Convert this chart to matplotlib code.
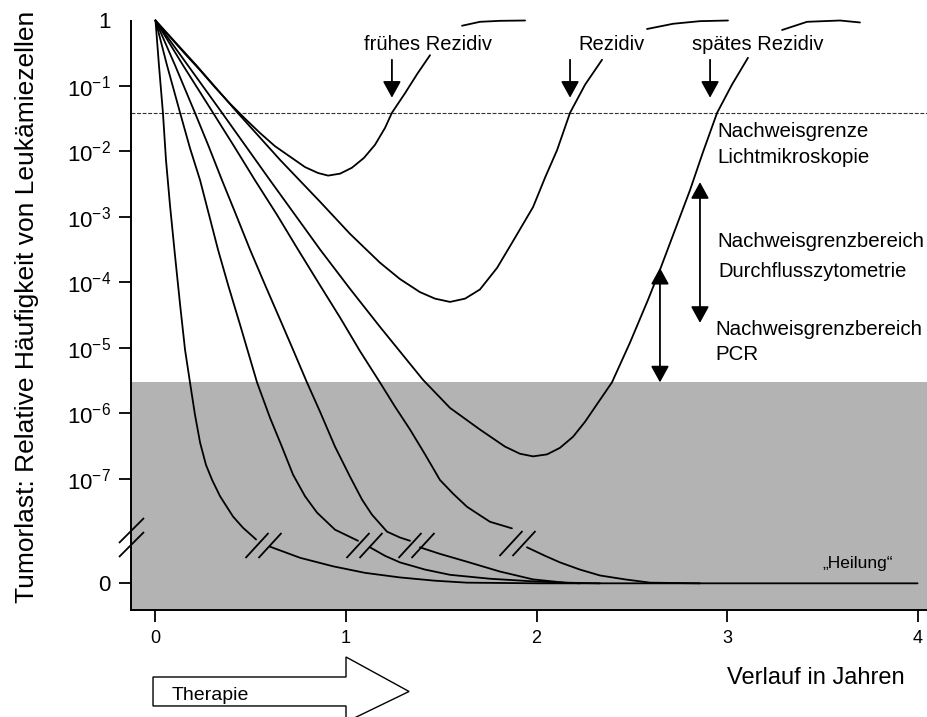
import numpy as np
import matplotlib
matplotlib.use('Agg')
import matplotlib.pyplot as plt
import matplotlib.transforms as mtransforms
from matplotlib.path import Path
from matplotlib.patches import Polygon

plt.rcParams['font.family'] = ['Liberation Sans', 'DejaVu Sans']
plt.rcParams['mathtext.fontset'] = 'custom'
plt.rcParams['mathtext.rm'] = 'Liberation Sans'
plt.rcParams['mathtext.it'] = 'Liberation Sans:italic'
plt.rcParams['mathtext.bf'] = 'Liberation Sans:bold'

DPI = 100
LW = 1.3

# ── Daten: x in Jahren, y als log10 der relativen Häufigkeit ──
# "0" (Heilung) wird auf der Achse bei 10^-8.6 dargestellt
NULL_LEVEL = -8.6

frueh_x = [0, 0.076, 0.155, 0.234, 0.312, 0.391, 0.470, 0.549, 0.627, 0.706, 0.785, 0.853, 0.906,
           0.969, 1.031, 1.094, 1.152, 1.205, 1.241, 1.310, 1.373, 1.441]
frueh_e = [0, -0.25, -0.51, -0.76, -1.02, -1.27, -1.50, -1.72, -1.92, -2.08, -2.24, -2.33, -2.37,
           -2.34, -2.25, -2.10, -1.90, -1.64, -1.41, -1.11, -0.82, -0.53]
frueh_top_x = [1.609, 1.703, 1.808, 1.94]
frueh_top_e = [-0.08, -0.02, -0.005, 0.0]

rez_x = [0, 0.213, 0.428, 0.654, 0.864, 1.021, 1.178, 1.283, 1.388, 1.467, 1.546, 1.625, 1.703,
         1.793, 1.877, 1.982, 2.045, 2.108, 2.176, 2.255, 2.344]
rez_e = [0, -0.68, -1.40, -2.13, -2.77, -3.26, -3.70, -3.95, -4.15, -4.25, -4.30, -4.25, -4.11,
         -3.78, -3.37, -2.85, -2.40, -1.98, -1.41, -0.98, -0.60]
rez_top_x = [2.58, 2.717, 2.858, 3.005]
rez_top_e = [-0.13, -0.05, -0.01, 0.0]

spaet_x = [0, 0.181, 0.349, 0.601, 0.864, 1.021, 1.178, 1.404, 1.546, 1.703, 1.834, 1.913, 1.982,
           2.055, 2.123, 2.192, 2.255, 2.323, 2.396, 2.491, 2.585, 2.648, 2.727, 2.806, 2.874,
           2.948, 3.026, 3.110]
spaet_e = [0, -0.73, -1.41, -2.44, -3.50, -4.10, -4.68, -5.49, -5.92, -6.25, -6.51, -6.62, -6.66,
           -6.63, -6.53, -6.36, -6.13, -5.84, -5.53, -4.92, -4.27, -3.81, -3.20, -2.59, -2.01,
           -1.41, -0.98, -0.57]
spaet_top_x = [3.289, 3.42, 3.593, 3.698]
spaet_top_e = [-0.145, -0.02, 0.0, -0.03]

# Heilungskurven (vor und nach dem Achsenbruch)
heil1_x = [0, 0.018, 0.039, 0.055, 0.076, 0.102, 0.129, 0.155, 0.181, 0.207, 0.234, 0.265, 0.297,
           0.339, 0.407, 0.459, 0.528]
heil1_e = [0, -0.68, -1.41, -2.13, -2.82, -3.58, -4.34, -5.03, -5.53, -6.02, -6.45, -6.79, -7.02,
           -7.27, -7.58, -7.75, -7.93]
heil1_post_x = [0.601, 0.759, 0.932, 1.100, 1.283, 1.467, 1.635, 2.018, 4.0]
heil1_post_e = [-8.04, -8.21, -8.34, -8.44, -8.51, -8.56, -8.59, -8.6, -8.6]

heil2_x = [0, 0.060, 0.129, 0.181, 0.234, 0.281, 0.328, 0.381, 0.444, 0.533, 0.601, 0.659, 0.722,
           0.785, 0.848, 0.942, 1.063]
heil2_e = [0, -0.68, -1.41, -1.95, -2.44, -2.97, -3.50, -4.04, -4.65, -5.53, -6.07, -6.48, -6.94,
           -7.27, -7.52, -7.78, -7.95]
heil2_post_x = [1.126, 1.205, 1.283, 1.415, 1.546, 1.756, 1.982, 2.228]
heil2_post_e = [-8.05, -8.18, -8.28, -8.39, -8.47, -8.53, -8.57, -8.6]

heil3_x = [0, 0.102, 0.207, 0.276, 0.349, 0.423, 0.496, 0.575, 0.654, 0.722, 0.795, 0.864, 0.942,
           1.021, 1.084, 1.136, 1.215, 1.283, 1.336]
heil3_e = [0, -0.68, -1.41, -1.90, -2.44, -2.97, -3.50, -4.04, -4.57, -5.03, -5.53, -5.98, -6.51,
           -6.97, -7.32, -7.55, -7.81, -7.90, -7.95]
heil3_post_x = [1.388, 1.493, 1.635, 1.808, 1.982, 2.150, 2.333]
heil3_post_e = [-8.05, -8.15, -8.27, -8.42, -8.54, -8.59, -8.6]

heil4_x = [0, 0.150, 0.302, 0.412, 0.522, 0.638, 0.748, 0.858, 0.969, 1.073, 1.178, 1.257, 1.336,
           1.415, 1.493, 1.562, 1.635, 1.703, 1.756, 1.871]
heil4_e = [0, -0.71, -1.41, -1.92, -2.44, -2.97, -3.50, -4.02, -4.54, -5.05, -5.53, -5.90, -6.25,
           -6.63, -7.02, -7.23, -7.43, -7.56, -7.66, -7.76]
heil4_post_x = [1.950, 2.045, 2.123, 2.228, 2.333, 2.465, 2.596, 2.858]
heil4_post_e = [-8.05, -8.18, -8.28, -8.39, -8.48, -8.54, -8.59, -8.6]

bruch_x = [0.564, 1.094, 1.367, 1.898]
bruch_e = [-8.01, -8.01, -8.01, -7.98]

nachweis_licht = -1.41     # gestrichelte Linie
pcr_grenze = -5.53         # Oberkante grauer Bereich

y_ticks_e = [0, -1, -2, -3, -4, -5, -6, -7, NULL_LEVEL]
y_tick_labels = ['1'] + [r'$\mathregular{10^{-%d}}$' % k for k in range(1, 8)] + ['0']
x_ticks = [0, 1, 2, 3, 4]


def v(e):
    return 10.0 ** np.asarray(e, dtype=float)


def break_path(verts):
    codes = [Path.MOVETO, Path.LINETO, Path.MOVETO, Path.LINETO]
    path = Path(verts, codes)
    ms = 2 * np.max(np.abs(verts)) * 72.0 / DPI
    return path, ms


fig = plt.figure(figsize=(9.28, 7.17), dpi=DPI)
ax = fig.add_axes([131 / 928, 1 - 609.5 / 717, 1 - 131 / 928, (609.5 - 20.5) / 717])
ax.set_yscale('log')
ax.set_xlim(-0.1286, 4.055)
ax.set_ylim(1e-9, 1)

# grauer Bereich (unter Nachweisgrenze PCR)
ax.axhspan(1e-9, v(pcr_grenze), color='#b3b3b3', lw=0, zorder=0)
# Nachweisgrenze Lichtmikroskopie
ax.axhline(v(nachweis_licht), color='#333333', lw=0.8, ls=(0, (3.5, 1.5)), zorder=1)

curves = [
    (frueh_x, frueh_e), (frueh_top_x, frueh_top_e),
    (rez_x, rez_e), (rez_top_x, rez_top_e),
    (spaet_x, spaet_e), (spaet_top_x, spaet_top_e),
    (heil1_x, heil1_e), (heil1_post_x, heil1_post_e),
    (heil2_x, heil2_e), (heil2_post_x, heil2_post_e),
    (heil3_x, heil3_e), (heil3_post_x, heil3_post_e),
    (heil4_x, heil4_e), (heil4_post_x, heil4_post_e),
]
for cx, ce in curves:
    ax.plot(cx, v(ce), color='black', lw=LW, solid_capstyle='round', solid_joinstyle='round',
            clip_on=False, zorder=3)

# Bruchzeichen auf den Kurven
p, ms = break_path([(-18, -12.5), (5, 12.5), (-5, -12.5), (18, 12.5)])
ax.plot(bruch_x, v(bruch_e), ls='none', marker=p, ms=ms, mfc='none', mec='black', mew=1.3, zorder=4)
# Bruchzeichen auf der y-Achse
p2, ms2 = break_path([(-12.5, -5.5), (12.5, 19.5), (-12.5, -19.5), (12.5, 5.5)])
ax.plot([-0.1286], [v(-7.89)], ls='none', marker=p2, ms=ms2, mfc='none', mec='black', mew=1.3,
        clip_on=False, zorder=4)

# Achsen
for s in ['top', 'right']:
    ax.spines[s].set_visible(False)
for s in ['left', 'bottom']:
    ax.spines[s].set_linewidth(1.4)
ax.set_yticks(v(y_ticks_e))
ax.set_yticklabels(y_tick_labels, fontsize=16)
ax.yaxis.set_minor_locator(matplotlib.ticker.NullLocator())
ax.set_xticks(x_ticks)
ax.set_xticklabels([str(t) for t in x_ticks], fontsize=13)
ax.tick_params(axis='both', length=8.6, width=1.3, direction='out')
ax.tick_params(axis='y', pad=6)
ax.tick_params(axis='x', pad=6)
ax.yaxis.get_major_ticks()[0].tick1line.set_visible(False)

fig.text(27 / 928, 1 - 307 / 717, 'Tumorlast: Relative Häufigkeit von Leukämiezellen',
         fontsize=19, rotation=90, ha='center', va='center')

# Pfeile Rezidiv
arrow_kw = dict(arrowstyle='-|>,head_length=1.0,head_width=0.55', mutation_scale=10,
                color='black', lw=1.3, shrinkA=0, shrinkB=0)
for ax_x, label, tx in [(1.241, 'frühes Rezidiv', 1.43), (2.176, 'Rezidiv', 2.396),
                        (2.911, 'spätes Rezidiv', 3.163)]:
    ax.annotate('', xy=(ax_x, v(-1.18)), xytext=(ax_x, v(-0.60)), arrowprops=arrow_kw)
    ax.text(tx, v(-0.45), label, ha='center', va='baseline', fontsize=14.5)

dbl_kw = dict(arrowstyle='<|-|>,head_length=1.0,head_width=0.55', mutation_scale=10,
              color='black', lw=1.3, shrinkA=0, shrinkB=0)
ax.annotate('', xy=(2.858, v(-2.47)), xytext=(2.858, v(-4.62)), arrowprops=dbl_kw)
ax.annotate('', xy=(2.648, v(-3.78)), xytext=(2.648, v(-5.53)), arrowprops=dbl_kw)

ax.text(2.948, v(-1.78), 'Nachweisgrenze', fontsize=14.8, va='baseline')
ax.text(2.948, v(-2.18), 'Lichtmikroskopie', fontsize=14.8, va='baseline')
ax.text(2.948, v(-3.46), 'Nachweisgrenzbereich', fontsize=14.8, va='baseline')
ax.text(2.953, v(-3.92), 'Durchflusszytometrie', fontsize=14.5, va='baseline')
ax.text(2.937, v(-4.80), 'Nachweisgrenzbereich', fontsize=14.8, va='baseline')
ax.text(2.937, v(-5.18), 'PCR', fontsize=14.8, va='baseline')
ax.text(3.5, v(-8.36), '\u201eHeilung\u201c', fontsize=12.5, va='baseline', ha='left')

# Therapie-Pfeil unter der x-Achse
trans = mtransforms.blended_transform_factory(ax.transData, ax.transAxes)
pts = [(-0.013, -0.1146), (1.0, -0.1146), (1.0, -0.0806), (1.331, -0.1392),
       (1.0, -0.1910), (1.0, -0.1638), (-0.013, -0.1638)]
ax.add_patch(Polygon(pts, closed=True, transform=trans, clip_on=False,
                     facecolor='white', edgecolor='black', lw=1.0))
ax.text(0.087, -0.153, 'Therapie', transform=trans, fontsize=14, va='baseline')

fig.text(727 / 928, 1 - 684 / 717, 'Verlauf in Jahren', fontsize=17, va='baseline')

fig.savefig('out.png', dpi=DPI)
